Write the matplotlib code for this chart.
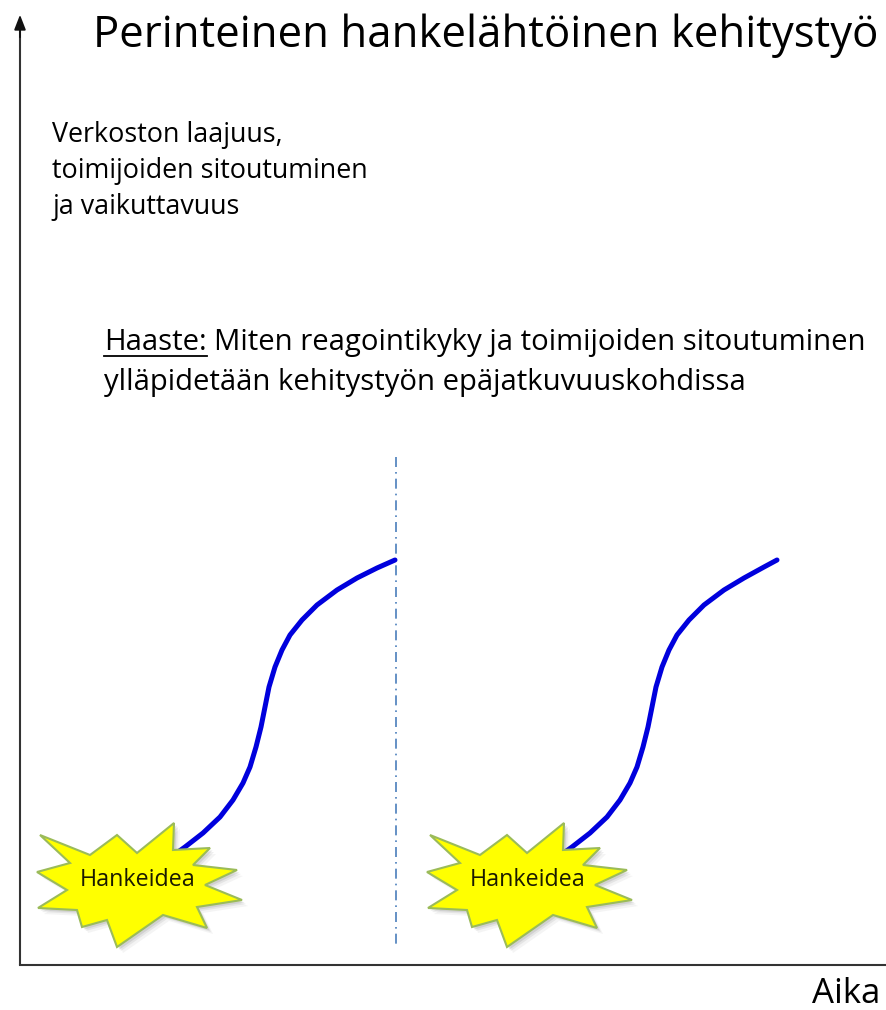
import matplotlib
matplotlib.use("Agg")
import matplotlib.pyplot as plt
import numpy as np
from matplotlib.patches import Polygon
from matplotlib import font_manager

# ---------------- data ----------------
title = "Perinteinen hankelähtöinen kehitystyö"
ylabel_lines = ["Verkoston laajuus,", "toimijoiden sitoutuminen", "ja vaikuttavuus"]
challenge_head = "Haaste:"
challenge_line1 = "Miten reagointikyky ja toimijoiden sitoutuminen"
challenge_line2 = "ylläpidetään kehitystyön epäjatkuvuuskohdissa"
xlabel = "Aika"
idea_label = "Hankeidea"

# S-curves (x in pixel-like time units, y in pixel-like level units; y grows downward)
curve1_x = [178, 185, 203, 220, 233, 243, 250, 256, 261, 265, 269, 275, 282, 290, 302, 317, 337, 357, 377, 395]
curve1_y = [852, 847, 833, 817, 800, 783, 767, 747, 727, 707, 687, 667, 650, 635, 620, 605, 590, 578, 568, 560]
curve2_x = [565, 572, 590, 607, 620, 630, 637, 643, 648, 652, 656, 662, 669, 677, 689, 704, 724, 744, 764, 777]
curve2_y = [852, 847, 833, 817, 800, 783, 767, 747, 727, 707, 687, 667, 650, 635, 620, 605, 590, 578, 567, 560]

# idea burst centres
idea_x = [140, 530]
idea_y = [885, 885]
# burst outline offsets relative to centre
burst_dx = [-100, -50, -23, -3, 34, 33, 70, 53, 97, 65, 102, 57, 67, 23, -23, -33, -58, -63, -102, -73, -103, -70]
burst_dy = [-50, -30, -50, -32, -62, -35, -37, -20, -15, 0, 15, 22, 43, 30, 62, 35, 42, 25, 23, 5, -13, -22]

divider_x = 396
divider_y = [457, 945]

# ---------------- figure ----------------
W, H = 887, 1010
fig = plt.figure(figsize=(W / 100, H / 100), dpi=100)
ax = fig.add_axes([0, 0, 1, 1])
ax.set_xlim(0, W)
ax.set_ylim(H, 0)
ax.axis("off")

names = {f.name for f in font_manager.fontManager.ttflist}
FONT = "Liberation Sans Narrow" if "Liberation Sans Narrow" in names else "Open Sans"

renderer = fig.canvas.get_renderer()


def width_px(t):
    return t.get_window_extent(renderer=renderer).width


def fit_text(x, y, s, target_w, **kw):
    t = ax.text(x, y, s, fontsize=20, family=FONT, **kw)
    t.set_fontsize(20 * target_w / width_px(t))
    return t

# axes lines
ax.plot([20, 20], [965, 30], color="#333333", lw=1.5, solid_capstyle="butt")
ax.annotate("", xy=(20, 12), xytext=(20, 40),
            arrowprops=dict(arrowstyle="-|>,head_length=0.9,head_width=0.35", color="#111111", lw=1.3))
ax.plot([20, W], [965, 965], color="#333333", lw=1.5)

# divider
ax.plot([divider_x, divider_x], divider_y, color="#4a7ebb", lw=1.2, ls=(0, (6, 3, 1, 3)))

# curves
for cx, cy in [(curve1_x, curve1_y), (curve2_x, curve2_y)]:
    ax.plot(cx, cy, color="#0000dd", lw=3.6, solid_capstyle="round",
            solid_joinstyle="round", zorder=3)

# bursts
for x0, y0 in zip(idea_x, idea_y):
    pts = np.column_stack([np.array(burst_dx) + x0, np.array(burst_dy) + y0])
    for k, a in [(6, 0.08), (4, 0.12), (2.5, 0.18)]:
        ax.add_patch(Polygon(pts + np.array([k, k]), closed=True, facecolor="#777777",
                             edgecolor="none", alpha=a, zorder=4))
    ax.add_patch(Polygon(pts, closed=True, facecolor="#ffff00", edgecolor="#9bbb59",
                         lw=1.5, zorder=5))
    t = ax.text(x0 - 2, y0 - 5, idea_label, fontsize=13, family=FONT, color="#1a1a00",
                ha="center", va="center", zorder=6)
    t.set_fontsize(13 * 115 / width_px(t))

# title
fit_text(93, 47, title, 782, ha="left", va="baseline", color="black")

# y label
ref = ax.text(0, 0, ylabel_lines[1], fontsize=15, family=FONT)
yfs = 15 * 316 / width_px(ref)
ref.remove()
for i, line in enumerate(ylabel_lines):
    ax.text(52, 142 + 36 * i, line, fontsize=yfs, family=FONT, ha="left", va="baseline")

# challenge text
tmp = ax.text(0, 0, challenge_head + " " + challenge_line1, fontsize=18, family=FONT)
fs = 18 * 762 / width_px(tmp)
tmp.remove()
th = ax.text(104, 350, challenge_head, fontsize=fs, family=FONT, ha="left", va="baseline")
hw = width_px(th)
ax.plot([104, 104 + hw], [356, 356], color="black", lw=1.3)
sp = ax.text(0, 0, challenge_head + " ", fontsize=fs, family=FONT)
off = width_px(sp)
sp.remove()
ax.text(104 + off, 350, challenge_line1, fontsize=fs, family=FONT, ha="left", va="baseline")
ax.text(104, 390, challenge_line2, fontsize=fs, family=FONT, ha="left", va="baseline")

# x label
fit_text(812, 1003, xlabel, 68, ha="left", va="baseline")

fig.savefig("out.png", dpi=100)
